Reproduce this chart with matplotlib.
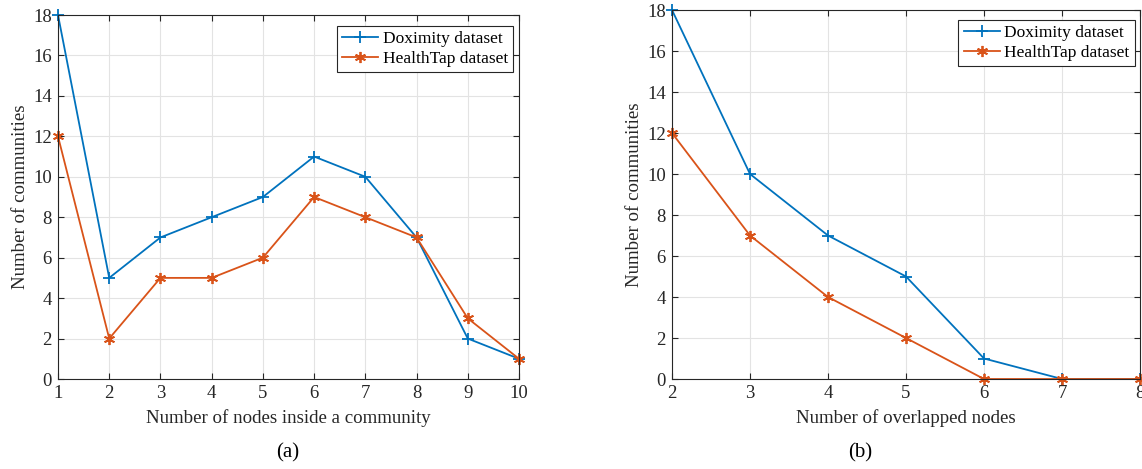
import matplotlib.pyplot as plt

plt.rcParams['font.family'] = ['Liberation Serif', 'DejaVu Serif']

# community size distribution
size_x = [1, 2, 3, 4, 5, 6, 7, 8, 9, 10]
size_doximity = [18, 5, 7, 8, 9, 11, 10, 7, 2, 1]
size_healthtap = [12, 2, 5, 5, 6, 9, 8, 7, 3, 1]

# overlapped nodes distribution
overlap_x = [2, 3, 4, 5, 6, 7, 8]
overlap_doximity = [18, 10, 7, 5, 1, 0, 0]
overlap_healthtap = [12, 7, 4, 2, 0, 0, 0]

blue = '#0072BD'
orange = '#D95319'
W, H = 1142, 469

fig = plt.figure(figsize=(W / 100, H / 100), dpi=100)


def draw(ax, x, dox, ht, xlabel, leg_anchor):
    ax.plot(x, dox, color=blue, marker='+', ms=8, mew=1.3, lw=1.3,
            label='Doximity dataset', clip_on=False)
    ax.plot(x, ht, color=orange, marker=(6, 2, 0), ms=8, mew=1.3, lw=1.3,
            label='HealthTap dataset', clip_on=False)
    ax.set_xlim(x[0], x[-1])
    ax.set_ylim(0, 18)
    ax.set_xticks(x)
    ax.set_yticks(range(0, 19, 2))
    ax.grid(True, color='#e3e3e3', linewidth=0.8)
    ax.set_axisbelow(True)
    ax.tick_params(direction='in', top=True, right=True, labelsize=13.5,
                   colors='#262626', length=4, width=0.8, pad=4.5)
    for s in ax.spines.values():
        s.set_color('#262626')
        s.set_linewidth(0.8)
    ax.set_xlabel(xlabel, fontsize=13.6, color='#262626', labelpad=5)
    ax.set_ylabel('Number of communities', fontsize=13.6, color='#262626', labelpad=3)
    leg = ax.legend(loc='upper right', bbox_to_anchor=leg_anchor, fontsize=12.5,
                    frameon=True, fancybox=False, edgecolor='#262626', framealpha=1,
                    borderaxespad=0, handlelength=2.1, borderpad=0.3,
                    labelspacing=0.2, handletextpad=0.25)
    leg.get_frame().set_linewidth(0.8)


ax1 = fig.add_axes([58 / W, 1 - 379 / H, (519 - 58) / W, (379 - 15) / H])
draw(ax1, size_x, size_doximity, size_healthtap,
     'Number of nodes inside a community', (0.987, 0.970))

ax2 = fig.add_axes([672 / W, 1 - 379 / H, (1140 - 672) / W, (379 - 10) / H])
draw(ax2, overlap_x, overlap_doximity, overlap_healthtap,
     'Number of overlapped nodes', (0.989, 0.973))

fig.text(288 / W, 1 - 453 / H, '(a)', ha='center', va='center', fontsize=15)
fig.text(860 / W, 1 - 453 / H, '(b)', ha='center', va='center', fontsize=15)

fig.savefig('out.png', dpi=100)
